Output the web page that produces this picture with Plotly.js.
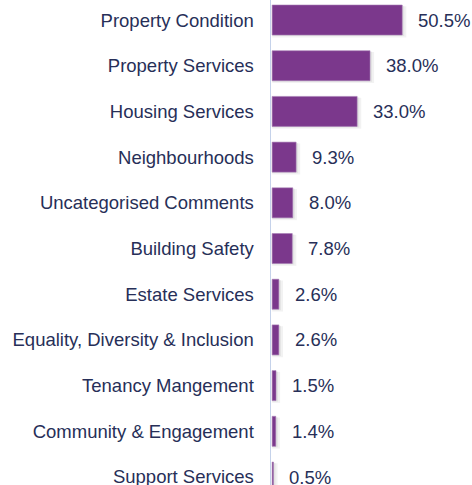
<!DOCTYPE html>
<html>
<head>
<meta charset="utf-8">
<script src="https://cdn.plot.ly/plotly-3.0.1.min.js"></script>
<style>html,body{margin:0;padding:0;background:#fff;}#chart{width:472px;height:485px;}</style>
</head>
<body>
<div id="chart"></div>
<script>
const categories = ["Property Condition","Property Services","Housing Services","Neighbourhoods","Uncategorised Comments","Building Safety","Estate Services","Equality, Diversity & Inclusion","Tenancy Mangement","Community & Engagement","Support Services"];
const values = [50.5, 38.0, 33.0, 9.3, 8.0, 7.8, 2.6, 2.6, 1.5, 1.4, 0.5];
const labels = values.map(v => v.toFixed(1) + "%");

const barColor = "#7B388C";
const textColor = "#272F58";
const fontFam = "Liberation Sans, Arial, sans-serif";
const fontSize = 18.5;

const shadow1 = {
  type: "bar", orientation: "h", y: categories, x: values.map(v => v + 1.6),
  width: 0.68, offset: -0.3, marker: {color: "rgba(0,0,0,0.05)"},
  hoverinfo: "skip", showlegend: false
};
const shadow2 = {
  type: "bar", orientation: "h", y: categories, x: values.map(v => v + 0.8),
  width: 0.66, offset: -0.31, marker: {color: "rgba(0,0,0,0.06)"},
  hoverinfo: "skip", showlegend: false
};
const bars = {
  type: "bar", orientation: "h", y: categories, x: values,
  width: 0.656, offset: -0.328,
  marker: {color: barColor, line: {color: "#A57AB4", width: 0.6}},
  showlegend: false
};

const annotations = categories.map((c, i) => ({
  x: values[i], y: c, xref: "x", yref: "y", text: labels[i],
  showarrow: false, xanchor: "left", yanchor: "middle", xshift: 14, yshift: 0,
  font: {family: fontFam, size: fontSize, color: textColor}
}));

const layout = {
  width: 472, height: 485,
  margin: {l: 271, r: 0, t: 0, b: 0, pad: 0},
  paper_bgcolor: "#fff", plot_bgcolor: "#fff",
  barmode: "overlay",
  font: {family: fontFam, size: fontSize, color: textColor},
  xaxis: {range: [-0.45, 77.6], showgrid: false, zeroline: false, showticklabels: false, ticks: "", showline: false, fixedrange: true},
  yaxis: {type: "category", range: [10.175, -0.438], showgrid: false, zeroline: false,
          showline: true, linecolor: "#C5D2EA", linewidth: 1.5,
          ticks: "outside", ticklen: 12, tickcolor: "rgba(0,0,0,0)",
          tickfont: {family: fontFam, size: fontSize, color: textColor}},
  annotations: annotations
};

Plotly.newPlot("chart", [shadow1, shadow2, bars], layout, {displayModeBar: false, staticPlot: true});
</script>
</body>
</html>
